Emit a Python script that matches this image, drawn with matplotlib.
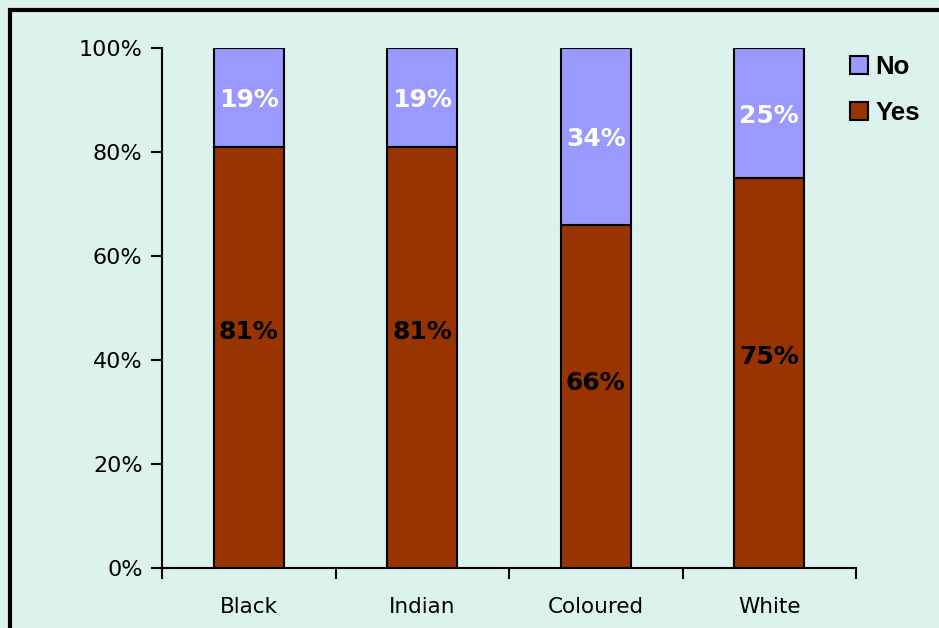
import matplotlib
matplotlib.use("Agg")
import matplotlib.pyplot as plt
from matplotlib.patches import Rectangle, Patch
from matplotlib.ticker import FuncFormatter, FixedLocator

# Survey answers by population group (percent of respondents)
groups = ["Black", "Indian", "Coloured", "White"]
yes_pct = [81, 81, 66, 75]
no_pct = [19, 19, 34, 25]

YES_COLOR = "#993300"
NO_COLOR = "#9999FF"
BG_COLOR = "#DCF2EC"

# vertical nudge (points) of the "Yes" value labels above their segment centre
yes_label_lift = [18, 18, 10, 11.5]

plt.rcParams["font.family"] = ["DejaVu Sans"]

fig = plt.figure(figsize=(9.39, 6.28), dpi=100)
fig.patch.set_facecolor(BG_COLOR)

# heavy black frame round the chart area
frame = Rectangle((9.5 / 939, -0.2), 1.3, 1.2 - 9.5 / 628,
                  transform=fig.transFigure, fill=False,
                  edgecolor="black", linewidth=3.0, zorder=10)
fig.add_artist(frame)

ax = fig.add_axes([162 / 939, 1 - 568 / 628, (856 - 162) / 939, (568 - 48) / 628])
ax.set_facecolor("none")

x = list(range(len(groups)))
width = 0.403

ax.bar(x, yes_pct, width, color=YES_COLOR, edgecolor="black",
       linewidth=1.5, label="Yes", zorder=3)
ax.bar(x, no_pct, width, bottom=yes_pct, color=NO_COLOR,
       edgecolor="black", linewidth=1.5, label="No", zorder=3)

for xi, y, n, lift in zip(x, yes_pct, no_pct, yes_label_lift):
    ax.annotate(f"{y}%", (xi, y / 2), xytext=(0, lift), textcoords="offset points",
                ha="center", va="center", fontsize=18, fontweight="bold",
                color="black", zorder=5)
    ax.annotate(f"{n}%", (xi, y + n / 2), xytext=(0, -2), textcoords="offset points",
                ha="center", va="center", fontsize=18, fontweight="bold",
                color="white", zorder=5)

ax.set_xlim(-0.5, len(groups) - 0.5)
ax.set_ylim(0, 100)
ax.set_yticks([0, 20, 40, 60, 80, 100])
ax.yaxis.set_major_formatter(FuncFormatter(lambda v, _: f"{v:.0f}%"))

ax.set_xticks(x)
ax.set_xticklabels(groups)
ax.xaxis.set_minor_locator(FixedLocator([i - 0.5 for i in range(len(groups) + 1)]))
ax.tick_params(axis="x", which="major", length=0, pad=21, labelsize=15.5)
ax.tick_params(axis="x", which="minor", length=8, width=1.5, direction="out")
ax.tick_params(axis="y", length=8, width=1.5, direction="out", pad=6, labelsize=16)

for side in ("top", "right"):
    ax.spines[side].set_visible(False)
for side in ("left", "bottom"):
    ax.spines[side].set_linewidth(1.5)

handles = [Patch(facecolor=NO_COLOR, edgecolor="black", linewidth=1.5, label="No"),
           Patch(facecolor=YES_COLOR, edgecolor="black", linewidth=1.5, label="Yes")]
fig.legend(handles=handles, loc="upper left", bbox_to_anchor=(850 / 939, 1 - 55 / 628),
           frameon=False, handlelength=0.7, handleheight=0.7, handletextpad=0.3,
           labelspacing=0.85, borderpad=0, borderaxespad=0,
           prop={"family": "Liberation Sans", "weight": "bold", "size": 18.5})

fig.savefig("out.png", dpi=100, facecolor=fig.get_facecolor())
